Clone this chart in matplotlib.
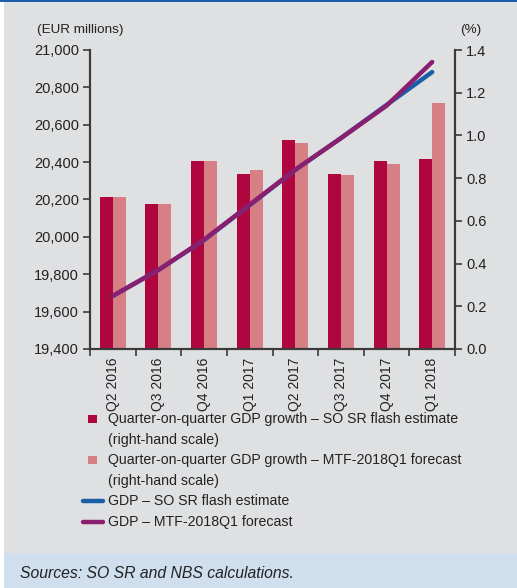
import matplotlib
matplotlib.use("Agg")
import matplotlib.pyplot as plt
from matplotlib.patches import Rectangle
from matplotlib.lines import Line2D
import numpy as np

plt.rcParams['font.family'] = ['Liberation Sans', 'DejaVu Sans']

quarters = ["Q2 2016", "Q3 2016", "Q4 2016", "Q1 2017",
            "Q2 2017", "Q3 2017", "Q4 2017", "Q1 2018"]
growth_flash = [0.71, 0.68, 0.88, 0.82, 0.98, 0.82, 0.88, 0.89]
growth_mtf = [0.71, 0.68, 0.88, 0.84, 0.965, 0.815, 0.865, 1.15]
gdp_flash = [19684, 19823, 19983, 20170, 20358, 20529, 20706, 20882]
gdp_mtf = [19684, 19823, 19985, 20172, 20360, 20528, 20702, 20936]

legend_labels = [
    "Quarter-on-quarter GDP growth \u2013 SO SR flash estimate\n(right-hand scale)",
    "Quarter-on-quarter GDP growth \u2013 MTF-2018Q1 forecast\n(right-hand scale)",
    "GDP \u2013 SO SR flash estimate",
    "GDP \u2013 MTF-2018Q1 forecast",
]

c_dark = "#b0063f"
c_light = "#d68086"
c_blue = "#1b5ea8"
c_purple = "#8b1e6e"
c_bg = "#dfe0e2"
c_src = "#cfdfee"
c_ax = "#3a3a3a"
c_txt = "#222222"

W, H = 517, 588
fig = plt.figure(figsize=(W / 100, H / 100), dpi=100)
fig.patch.set_facecolor("white")


def fx(px):
    return px / W


def fy(py):
    return 1 - py / H


# panel backgrounds
fig.patches.append(Rectangle((fx(4), 35 / H), 1 - fx(4), (H - 2 - 35) / H,
                             transform=fig.transFigure, facecolor=c_bg,
                             edgecolor="none", zorder=-5))
fig.patches.append(Rectangle((fx(4), 0), 1 - fx(4), 35 / H,
                             transform=fig.transFigure, facecolor=c_src,
                             edgecolor="none", zorder=-5))
fig.patches.append(Rectangle((0, (H - 2) / H), 1, 2 / H,
                             transform=fig.transFigure, facecolor="#1a5fa8",
                             edgecolor="none", zorder=-5))

ax = fig.add_axes([fx(90), fy(349), (455 - 90) / W, (349 - 50) / H])
ax2 = ax.twinx()

x = np.arange(len(quarters))
bw = 0.285
ax2.bar(x - bw / 2, growth_flash, width=bw, color=c_dark, zorder=2)
ax2.bar(x + bw / 2, growth_mtf, width=bw, color=c_light, zorder=2)
ax2.set_ylim(0, 1.4)
ax2.set_yticks(np.arange(0, 1.41, 0.2))
ax2.set_yticklabels([f"{v:.1f}" for v in np.arange(0, 1.41, 0.2)])

# lines drawn above the bars on the primary axis
ax.set_zorder(ax2.get_zorder() + 1)
ax.patch.set_visible(False)
ax2.patch.set_visible(False)
ax.plot(x, gdp_flash, color=c_blue, lw=3.2, solid_capstyle="round", zorder=3)
ax.plot(x, gdp_mtf, color=c_purple, lw=3.2, solid_capstyle="round", zorder=4)
ax.set_ylim(19400, 21000)
ax.set_yticks(np.arange(19400, 21001, 200))
ax.set_yticklabels([f"{v:,}" for v in range(19400, 21001, 200)])
ax.set_xlim(-0.5, len(quarters) - 0.5)
ax.set_xticks(x)
ax.set_xticklabels(quarters, rotation=90)
ax.set_xticks(np.arange(-0.5, len(quarters)), minor=True)
ax.tick_params(axis="x", which="major", length=0, pad=6)
ax.tick_params(axis="x", which="minor", length=5, width=1.2, color=c_ax)

for a in (ax, ax2):
    a.spines["top"].set_visible(False)
    for s in ("left", "right", "bottom"):
        a.spines[s].set_color(c_ax)
        a.spines[s].set_linewidth(1.5)
    a.tick_params(labelsize=10.5, colors=c_txt)
ax.tick_params(axis="y", length=5, width=1.2, color=c_ax, pad=3)
ax2.tick_params(axis="y", length=5, width=1.2, color=c_ax, pad=3)
ax.tick_params(axis="x", labelsize=10)

fig.text(fx(37), fy(30), "(EUR millions)", fontsize=9.7, color=c_txt,
         va="center", ha="left")
fig.text(fx(471), fy(30), "(%)", fontsize=9.7, color=c_txt,
         va="center", ha="center")

# legend, laid out row by row with even line spacing
row_h = 20.6
rows = [419, 419 + 2 * row_h, 419 + 4 * row_h, 419 + 5 * row_h]
handles = [
    dict(kind="square", color=c_dark),
    dict(kind="square", color=c_light),
    dict(kind="line", color=c_blue),
    dict(kind="line", color=c_purple),
]
for (h, label, ry) in zip(handles, legend_labels, rows):
    if h["kind"] == "square":
        fig.add_artist(Rectangle((fx(88), fy(ry + 4)), 8.5 / W, 8.5 / H,
                                 transform=fig.transFigure,
                                 facecolor=h["color"], edgecolor="none"))
    else:
        fig.add_artist(Line2D([fx(83), fx(103)], [fy(ry), fy(ry)],
                              transform=fig.transFigure, color=h["color"],
                              lw=3.2, solid_capstyle="round"))
    for k, part in enumerate(label.split("\n")):
        fig.text(fx(108), fy(ry + k * row_h), part, fontsize=10.2,
                 color=c_txt, va="center", ha="left")

fig.text(fx(20), fy(573), "Sources: SO SR and NBS calculations.",
         fontsize=11.3, style="italic", color=c_txt, va="center", ha="left")

fig.savefig("out.png", dpi=100, facecolor=fig.get_facecolor())
